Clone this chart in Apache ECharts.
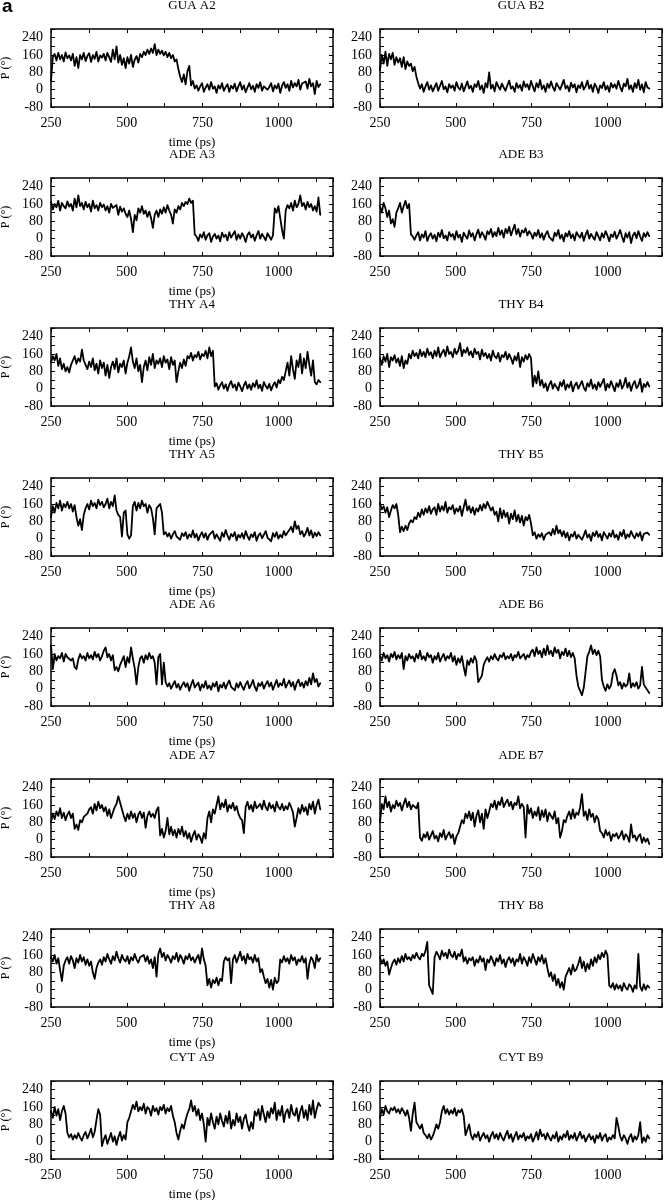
<!DOCTYPE html>
<html>
<head>
<meta charset="utf-8">
<script src="https://cdn.jsdelivr.net/npm/echarts@6/dist/echarts.min.js"></script>
<style>
html,body{margin:0;padding:0;background:#fff;}
#chart{width:670px;height:1200px;}
</style>
</head>
<body>
<div id="chart"></div>
<script>
// ---- data (P in degrees, sampled every 6 ps starting at 250 ps) ----
const T_START = 250, T_STEP = 6;
const panelTitles = ['GUA A2','GUA B2','ADE A3','ADE B3','THY A4','THY B4','THY A5','THY B5',
                     'ADE A6','ADE B6','ADE A7','ADE B7','THY A8','THY B8','CYT A9','CYT B9'];
const xTickLabels = [250, 500, 750, 1000];
const yTickLabels = [-80, 0, 80, 160, 240];

const GUA_A2 = [40,150,165,135,170,140,160,130,172,145, 158,135,165,110,150,100,160,140,170,132,
 155,168,128,160,142,175,130,158,148,165, 135,170,150,128,185,140,200,125,160,115,
 145,100,150,120,160,105,138,155,125,165, 150,175,160,185,165,190,170,210,160,185,
 165,180,158,175,150,170,145,160,130,140, 95,60,35,70,25,85,110,20,40,5,
 20,-5,15,30,-10,10,25,0,35,5, 15,-15,20,5,30,-5,12,25,-10,18,
 5,28,-8,15,35,0,20,-12,10,30, 2,18,-10,25,8,35,-5,15,22,0,
 12,30,-8,20,5,28,-15,18,35,8, 25,-5,40,10,30,15,45,0,28,20, 38,5,50,15,30,-20,40,12,25];
const GUA_B2 = [90,160,120,175,110,165,140,170,115,150, 125,145,105,150,95,130,110,120,85,105,
 60,30,5,25,-10,15,35,0,20,-8, 12,30,-5,18,40,2,15,-12,25,8,
 20,-5,35,10,0,28,-8,15,38,5, 18,-10,25,12,40,0,20,-15,30,10,
 80,5,22,-8,35,15,0,28,10,-5, 20,42,5,15,-10,30,8,22,-5,38,
 12,25,0,40,15,-8,30,10,45,2, 20,-10,28,8,38,12,-5,30,15,0,
 22,45,5,18,-8,32,10,25,-12,20, 8,35,0,15,42,5,22,-10,28,12,
 -15,20,8,35,0,18,-10,30,10,25, 5,40,12,-8,28,15,50,2,20,-10, 30,8,45,0,25,-12,35,10,5];
const ADE_A3 = [170,135,160,145,175,130,165,150,140,172, 148,160,130,185,145,200,150,165,135,170,
 145,160,125,175,140,155,130,165,145,158, 130,150,120,160,142,135,155,110,148,125,
 140,115,100,130,90,30,110,85,140,120, 150,115,130,100,125,95,50,110,130,100,
 135,115,145,120,155,130,110,70,135,120, 150,135,165,150,170,160,185,165,175,20,
 10,-10,20,5,30,-5,15,25,-15,10, 22,0,15,-12,28,8,18,-8,30,5,
 12,35,-5,20,0,25,10,-15,18,30, 5,20,-10,15,35,0,22,8,-8,25,
 10,-5,15,140,120,150,95,40,0,130, 155,140,165,130,175,145,160,200,150,165, 135,170,145,160,130,150,125,190,110];
const ADE_B3 = [150,120,165,140,100,130,70,90,55,120, 140,165,120,150,175,140,160,20,10,-5,
 15,30,-8,20,5,35,-10,12,25,0, 18,-12,28,8,40,2,15,-8,30,10,
 22,-5,35,5,18,-15,28,12,0,38, 10,25,-8,20,42,5,30,15,-5,35,
 20,45,8,30,12,50,18,38,5,45, 25,55,15,40,65,20,45,10,38,28,
 48,15,35,22,0,28,12,40,5,25, -5,20,35,8,15,-10,28,12,40,0,
 18,-12,25,10,35,2,20,-8,30,15, 5,28,-10,18,38,0,22,8,-5,30,
 12,-8,25,5,35,15,-12,20,8,32, 0,18,40,10,-15,25,5,30,-20,15, 28,2,35,10,-10,25,8,30,12];
const THY_A4 = [120,150,130,160,105,140,90,115,80,100, 75,110,130,150,115,140,125,180,130,110,
 90,125,100,140,85,115,70,130,95,120, 60,110,50,100,125,90,140,75,115,100,
 130,70,120,150,190,125,95,140,80,110, 30,100,130,85,145,110,160,95,130,115,
 140,100,150,120,135,90,145,110,130,30, 80,120,95,135,105,150,140,165,130,155,
 145,170,135,160,150,175,140,190,150,175, 10,25,-5,15,30,0,20,-10,18,35,
 5,20,-8,28,10,-12,15,32,0,20, -5,25,8,38,2,18,-10,30,12,0,
 22,-8,15,30,5,40,25,55,40,80, 120,60,150,90,45,130,100,160,70,140, 95,170,110,60,130,30,20,40,30];
const THY_B4 = [140,110,150,125,160,100,145,130,155,120, 140,105,150,95,130,115,160,140,175,150,
 165,140,180,150,170,145,185,155,168,140, 175,150,190,145,165,180,150,195,160,170,
 145,185,160,175,210,150,180,165,190,155, 172,145,185,160,170,135,180,150,165,140,
 160,130,175,150,140,165,125,155,145,170, 135,160,140,115,150,130,165,100,145,125,
 155,135,160,140,10,60,25,80,15,40, 5,25,-10,18,35,0,22,8,-8,30,
 12,40,-5,20,5,32,-12,15,28,0, 18,35,5,-10,25,10,42,0,20,-5,
 30,8,15,45,-8,22,5,35,12,-12, 25,8,40,0,18,50,5,28,-10,20, 35,2,15,45,-15,22,8,30,10];
const THY_A5 = [100,150,120,165,140,175,130,160,145,170, 140,160,125,155,100,60,90,40,110,140,
 160,135,175,150,165,140,180,155,170,145, 160,185,140,170,150,200,130,110,100,10,
 120,130,20,0,15,150,170,130,165,140, 175,150,160,120,155,140,95,20,140,150,
 160,120,20,30,10,25,0,20,35,10, 18,-5,25,12,30,0,20,8,38,5,
 22,-8,15,30,5,25,-5,18,10,35, 0,20,12,-10,28,8,40,15,-5,22,
 10,30,-8,18,5,25,0,35,12,-5, 20,8,30,-10,15,25,2,18,35,5,
 12,-12,25,8,30,0,18,5,35,15, 28,40,55,30,80,45,60,20,35,10, 25,50,15,38,5,28,12,30,15];
const THY_B5 = [165,135,150,120,145,100,130,155,140,160, 110,30,55,35,60,40,70,85,75,100,
 90,120,100,135,110,140,120,150,115,135, 145,110,160,125,150,130,170,120,145,135,
 155,115,140,125,150,105,145,180,130,150, 120,145,110,140,125,155,130,160,140,170,
 150,130,145,110,125,80,140,95,130,100, 120,70,115,90,130,80,110,75,105,60,
 100,85,110,70,15,30,0,20,8,25, -5,18,10,30,15,45,20,60,25,40,
 12,35,5,28,-8,20,10,32,0,18, 25,-5,15,38,5,20,-10,28,12,35,
 8,22,-8,30,15,0,25,10,38,5, 18,-5,30,12,40,0,20,8,35,15, 2,25,10,30,-8,22,15,28,18];
const ADE_A6 = [200,90,160,130,150,140,165,125,160,145, 150,130,140,100,90,135,160,140,150,130,
 165,140,155,135,170,145,160,130,150,175, 190,145,160,130,155,85,100,80,110,130,
 150,100,145,120,190,140,95,20,100,140, 150,120,155,135,165,140,150,120,20,145,
 160,20,120,30,10,25,0,18,35,5, 22,-5,15,30,8,25,-10,18,40,5,
 12,28,-8,20,5,35,0,15,-5,25, 10,32,-12,18,5,28,0,22,38,8,
 15,-8,25,5,30,10,-5,20,35,2, 18,40,8,-10,25,12,30,0,20,35,
 10,28,-5,18,40,8,25,15,45,5, 22,38,10,30,-5,25,42,12,28,5, 35,15,50,20,70,30,45,10,25];
const ADE_B6 = [150,130,165,140,155,125,160,145,170,135, 155,140,165,90,150,130,160,140,150,125,
 160,140,175,135,150,130,165,145,155,120, 150,135,165,125,145,160,130,150,140,165,
 125,150,110,140,120,150,100,60,130,110, 140,120,150,130,30,45,60,110,130,145,
 125,150,135,160,140,130,155,145,165,135, 150,140,160,130,155,145,170,140,150,160,
 135,155,145,170,180,150,190,160,175,145, 185,155,200,160,175,150,190,165,180,140,
 170,155,185,150,175,145,165,140,60,10, -10,-30,5,10,150,170,200,160,180,155,
 175,150,40,10,-10,20,0,15,70,90, 60,15,30,0,25,10,20,70,5,25, 10,30,0,15,100,20,5,10,-20];
const ADE_A7 = [80,120,95,130,110,145,100,125,90,115, 130,100,120,50,70,45,90,80,105,100,
 120,140,150,120,165,135,175,145,160,130, 150,110,140,100,125,150,165,200,170,140,
 110,85,120,95,130,100,120,80,115,130, 100,125,55,110,130,105,120,100,135,150,
 20,50,10,40,100,25,60,20,45,10, 50,25,60,15,40,5,30,-10,20,40,
 0,25,10,-15,30,5,100,130,80,140, 120,160,200,140,170,150,185,130,160,145,
 170,135,155,120,100,90,30,150,175,140, 160,130,175,145,155,165,140,180,150,135,
 170,145,160,130,175,150,140,165,135,155, 140,170,150,125,60,100,145,120,160,130, 150,115,165,140,175,120,160,185,140];
const ADE_B7 = [80,165,140,200,150,175,130,160,145,180, 155,170,135,165,190,150,175,140,160,165,
 145,170,10,-5,25,10,35,0,20,40, 5,18,-8,30,12,45,0,20,35,8,
 25,-20,15,30,60,90,75,120,100,130, 90,125,60,110,135,80,120,50,140,100,
 130,165,150,180,140,175,160,195,150,170, 185,155,175,140,170,160,200,145,165,150,
 10,160,120,145,100,130,110,150,90,135, 105,140,85,125,110,95,130,75,100,10,
 40,90,80,110,130,95,140,100,125,115, 150,210,110,130,90,140,105,120,80,110,
 95,40,30,10,45,20,35,-5,25,15, 30,5,20,40,0,25,15,-10,70,10, 20,-5,15,25,-15,10,-10,5,-20];
const THY_A8 = [150,130,160,120,145,90,40,110,135,150, 120,155,135,100,145,125,160,130,150,115,
 140,110,130,80,50,100,125,140,115,150, 130,165,140,120,155,135,175,145,125,160,
 140,130,155,120,150,135,165,140,125,150, 145,160,130,155,120,140,100,150,60,165,
 190,150,170,135,160,145,125,155,140,170, 130,160,145,120,155,140,165,135,150,125,
 145,160,120,190,140,110,20,50,10,45, 30,55,20,50,40,130,150,135,145,30,
 140,160,125,150,175,135,155,120,165,140, 150,125,160,130,145,80,95,60,30,50,
 10,45,0,55,30,40,140,125,155,130, 145,120,160,135,150,115,140,130,155,125, 145,50,120,150,135,100,160,130,145];
const THY_B8 = [150,120,140,110,130,70,100,125,140,115, 145,125,155,130,165,140,150,135,160,145,
 170,150,140,165,155,180,220,20,0,-20, 150,175,160,140,180,155,170,145,185,160,
 150,175,140,165,155,185,130,150,120,145, 135,150,110,140,125,155,130,145,90,140,
 125,155,135,110,145,130,160,120,140,105, 135,150,125,145,110,140,130,165,120,150,
 135,110,150,125,165,140,115,150,130,160, 120,145,100,60,80,40,70,20,50,10,
 35,0,60,80,100,70,115,85,95,120, 150,100,130,85,120,95,140,110,150,125,
 160,140,170,150,180,160,20,10,30,0, 25,5,20,-5,30,10,0,25,15,-10, 20,5,165,15,-5,25,0,20,10];
const CYT_A9 = [140,110,160,120,150,100,140,165,130,40, 20,35,10,30,15,40,20,5,30,45,
 15,35,60,20,45,100,150,125,-20,10, 30,-10,15,40,0,25,-15,20,45,5,
 30,10,90,110,140,170,150,185,140,160, 145,175,130,160,150,120,165,140,155,125,
 160,145,170,130,155,140,165,120,90,40, 10,50,80,60,100,130,150,190,140,165,
 120,150,100,130,80,0,110,75,130,90, 60,115,80,130,95,70,120,85,140,60,
 100,75,130,90,115,60,105,125,80,50, 90,60,140,120,150,100,165,125,90,140,
 110,155,130,180,100,145,120,165,90,135, 150,110,170,130,120,155,95,140,165,110, 145,100,170,125,190,110,150,180,165];
const CYT_B9 = [110,150,125,165,140,130,155,145,160,135, 150,130,155,140,120,145,110,50,130,180,
 90,75,60,80,40,30,15,35,10,25, 50,80,60,90,140,165,130,150,125,145,
 130,155,120,145,135,150,120,30,55,80, 30,10,35,20,45,5,25,40,15,30,
 0,28,45,15,35,10,40,20,5,30, 50,15,35,0,25,45,10,30,20,40,
 5,25,15,35,0,20,45,10,55,25, 35,10,40,20,5,30,15,45,0,25,
 10,35,20,50,8,30,15,40,5,25, 45,15,30,0,20,35,10,25,-5,30,
 15,40,5,25,35,0,20,10,30,15, 110,70,25,5,30,15,-10,20,35,0, 25,10,30,90,-5,20,0,30,15];

const panelData = [GUA_A2, GUA_B2, ADE_A3, ADE_B3, THY_A4, THY_B4, THY_A5, THY_B5,
                   ADE_A6, ADE_B6, ADE_A7, ADE_B7, THY_A8, THY_B8, CYT_A9, CYT_B9];

// ---- layout ----
const colLeft = [51, 380];
const boxW = 282, boxH = 78;
const rowTop = [29, 178, 328, 478, 628, 779, 929, 1081];
const SERIF = '"Liberation Serif", "DejaVu Serif", serif';

const grids = [], xAxes = [], yAxes = [], series = [];
const lineStyle = { color: '#000', width: 1.5 };
const tickStyle = { show: true, inside: true, length: 4, lineStyle: { color: '#000', width: 1 } };

panelData.forEach((vals, p) => {
  const col = p % 2, row = Math.floor(p / 2);
  grids.push({ left: colLeft[col], top: rowTop[row], width: boxW, height: boxH,
               containLabel: false, outerBoundsMode: 'none' });
  const xBase = { type: 'value', gridIndex: p, min: 250, max: 1180, interval: 125,
                  splitLine: { show: false }, axisLine: { show: true, onZero: false, lineStyle },
                  axisTick: tickStyle };
  xAxes.push(Object.assign({}, xBase, {
    position: 'bottom',
    name: col === 0 ? 'time (ps)' : '',
    nameLocation: 'middle', nameGap: 29,
    nameTextStyle: { fontFamily: SERIF, fontSize: 13, color: '#000' },
    axisLabel: { show: true, interval: 0, margin: 9, fontFamily: SERIF, fontSize: 14, color: '#000',
                 formatter: v => xTickLabels.indexOf(v) >= 0 ? String(v) : '' }
  }));
  xAxes.push(Object.assign({}, xBase, {
    position: 'top',
    name: panelTitles[p], nameLocation: 'middle', nameGap: 17,
    nameTextStyle: { fontFamily: SERIF, fontSize: 13, color: '#000' },
    axisLabel: { show: false }
  }));
  const yBase = { type: 'value', gridIndex: p, min: -80, max: 280, interval: 40,
                  splitLine: { show: false }, axisLine: { show: true, onZero: false, lineStyle },
                  axisTick: tickStyle };
  yAxes.push(Object.assign({}, yBase, {
    position: 'left',
    name: col === 0 ? 'P (°)' : '',
    nameLocation: 'middle', nameGap: 39, nameRotate: 90,
    nameTextStyle: { fontFamily: SERIF, fontSize: 12, color: '#000' },
    axisLabel: { show: true, interval: 0, margin: 8, fontFamily: SERIF, fontSize: 14, color: '#000',
                 formatter: v => yTickLabels.indexOf(v) >= 0 ? String(v) : '' }
  }));
  yAxes.push(Object.assign({}, yBase, { position: 'right', axisLabel: { show: false } }));

  series.push({
    type: 'line', xAxisIndex: 2 * p, yAxisIndex: 2 * p,
    data: vals.map((v, i) => [T_START + T_STEP * i, v]),
    showSymbol: false, symbol: 'none', animation: false, silent: true,
    lineStyle: { color: '#000', width: 1.8, join: 'round', cap: 'round' }
  });
});

const chart = echarts.init(document.getElementById('chart'), null, { renderer: 'canvas' });
chart.setOption({
  backgroundColor: '#fff',
  animation: false,
  grid: grids, xAxis: xAxes, yAxis: yAxes, series,
  graphic: [{ type: 'text', left: 2, top: -3,
              style: { text: 'a', font: 'bold 19px "Liberation Sans", Arial, sans-serif', fill: '#000' } }]
});
</script>
</body>
</html>
